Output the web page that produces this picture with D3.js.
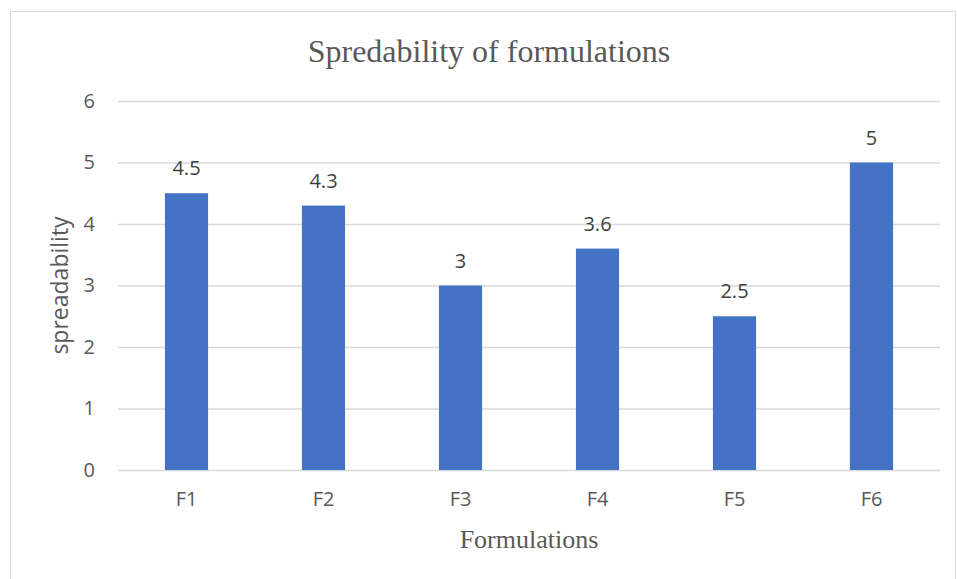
<!DOCTYPE html>
<html><head><meta charset="utf-8">
<script src="https://cdn.jsdelivr.net/npm/d3@7"></script>
<style>body{margin:0;background:#fff}svg{display:block}</style>
</head><body>
<svg id="c" width="957" height="579"></svg>
<script>
const categories = ["F1","F2","F3","F4","F5","F6"];
const values = [4.5, 4.3, 3, 3.6, 2.5, 5];
const yTicks = [0,1,2,3,4,5,6];
const title = "Spredability of formulations";
const xTitle = "Formulations";
const yTitle = "spreadability";

const svg = d3.select("#c");
const W = 957, H = 579;
const m = {left:118, right:17, top:101, bottom:109};
const iw = W - m.left - m.right, ih = H - m.top - m.bottom;

svg.append("rect").attr("x",10.5).attr("y",11.5).attr("width",W-12).attr("height",H-11)
  .attr("fill","#fff").attr("stroke","#d9d9d9");

const x = d3.scaleBand().domain(categories).range([m.left, m.left+iw]).paddingInner(0.685).paddingOuter(0.3425);
const y = d3.scaleLinear().domain([0,6]).range([m.top+ih, m.top]);

const g = svg.append("g");
g.selectAll("line.grid").data(yTicks).join("line").attr("class","grid")
  .attr("x1",m.left).attr("x2",m.left+iw).attr("y1",d=>y(d)+0.5).attr("y2",d=>y(d)+0.5)
  .attr("stroke","#d9d9d9").attr("stroke-width",1.3);

const yAxis = d3.axisLeft(y).tickValues(yTicks).tickSize(0).tickPadding(23).tickFormat(d3.format("d"));
const ya = svg.append("g").attr("transform",`translate(${m.left},0)`).call(yAxis);
ya.select(".domain").remove();
ya.selectAll("text").attr("font-family","'Open Sans', sans-serif").attr("font-size",20).attr("fill","#595959");

const xAxis = d3.axisBottom(x).tickSize(0).tickPadding(22);
const xa = svg.append("g").attr("transform",`translate(0,${m.top+ih})`).call(xAxis);
xa.select(".domain").remove();
xa.selectAll("text").attr("font-family","'Open Sans', sans-serif").attr("font-size",20).attr("fill","#595959");

g.selectAll("rect.bar").data(values).join("rect").attr("class","bar")
  .attr("x",(d,i)=>x(categories[i])).attr("width",x.bandwidth())
  .attr("y",d=>y(d)).attr("height",d=>y(0)-y(d)).attr("fill","#4472c4");

g.selectAll("text.lbl").data(values).join("text").attr("class","lbl")
  .attr("x",(d,i)=>x(categories[i])+x.bandwidth()/2).attr("y",d=>y(d)-18)
  .attr("text-anchor","middle").attr("font-family","'Open Sans', sans-serif").attr("font-size",20).attr("fill","#404040")
  .text(d=>d);

svg.append("text").attr("x",489).attr("y",62).attr("text-anchor","middle")
  .attr("font-family","'Liberation Serif', 'Times New Roman', serif").attr("font-size",32).attr("fill","#595959").text(title);
svg.append("text").attr("x",m.left+iw/2).attr("y",548).attr("text-anchor","middle")
  .attr("font-family","'Liberation Serif', 'Times New Roman', serif").attr("font-size",26).attr("fill","#595959").text(xTitle);
svg.append("text").attr("transform",`translate(68,${m.top+ih/2}) rotate(-90)`).attr("text-anchor","middle")
  .attr("font-family","'Open Sans', sans-serif").attr("font-size",23).attr("fill","#595959").text(yTitle);
</script>
</body></html>
